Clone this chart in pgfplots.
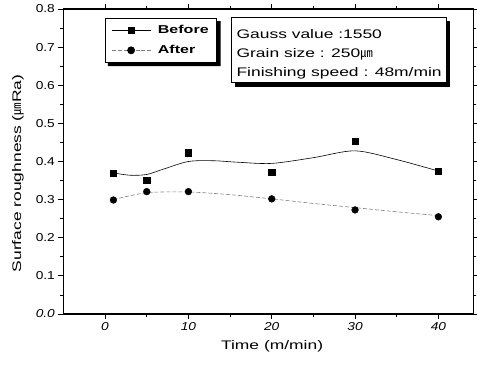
\documentclass[border=0pt]{standalone}
\usepackage{fontspec}
\setmainfont[FakeStretch=1.4]{Liberation Sans}
\newfontfamily\tickfont[FakeStretch=1.2]{Liberation Sans}
\newfontfamily\cjk{Noto Sans CJK SC}
\usepackage{pgfplots}
\usepackage{pgfplotstable}
\pgfplotsset{compat=1.18}
\usetikzlibrary{shadows}

\pgfplotstableread{
x y
1 0.370
5 0.351
10 0.423
20 0.372
30 0.454
40 0.375
}\beforepts
\pgfplotstableread{
x y
1 0.299
5 0.321
10 0.321
20 0.302
30 0.273
40 0.255
}\afterpts
\pgfplotstableread{
x y
1 0.370
3 0.364
5 0.366
7 0.380
10 0.400
13 0.402
16 0.398
20 0.395
25 0.410
30 0.428
35 0.405
40 0.375
}\beforefit
\pgfplotstableread{
x y
1 0.300
5 0.318
10 0.320
15 0.313
20 0.302
25 0.290
30 0.279
35 0.268
40 0.258
}\afterfit

\begin{document}
\begin{tikzpicture}
\useasboundingbox (0,0) rectangle (477bp,367bp);
\begin{axis}[
  at={(63.4bp,53bp)}, anchor=south west, scale only axis,
  width=410bp, height=305bp,
  xmin=-5, xmax=44.2, ymin=0, ymax=0.8,
  xtick={0,10,20,30,40},
  xticklabels={\textit{0},\textit{10},\textit{20},\textit{30},\textit{40}},
  minor x tick num=1,
  ytick={0,0.1,0.2,0.3,0.4,0.5,0.6,0.7,0.8},
  yticklabels={\textit{0.0},0.1,0.2,0.3,0.4,0.5,0.6,0.7,0.8},
  minor y tick num=1,
  tick align=outside,
  major tick length=5bp, minor tick length=3bp,
  axis line style={line width=1.1pt},
  every tick/.style={black, line width=0.8pt},
  /pgf/number format/assume math mode=true,
  tick label style={font=\tickfont\fontsize{11.5}{13}\selectfont},
  xlabel={Time (m/min)},
  ylabel={Surface roughness ({\cjk ㎛}Ra)},
  label style={font=\fontsize{12.5}{15}\selectfont},
  xlabel style={at={(axis description cs:0.509,-0.105)}, anchor=center},
  ylabel style={at={(axis description cs:-0.111,0.461)}, anchor=center},
  legend cell align=left,
  legend style={name=legbox, at={(0.101,0.970)}, anchor=north west, draw=black,
    line width=1pt, fill=white,
    font=\bfseries\fontsize{11.5}{14}\selectfont, row sep=6bp, column sep=5bp,
    inner xsep=6bp, inner ysep=5bp},
]
\addplot[black, line width=0.6pt, smooth, forget plot] table[x=x,y=y] {\beforefit};
\addplot[black, only marks, mark=square*, mark size=3.2bp,
  legend image code/.code={
    \draw[black, line width=0.6pt] (0bp,0bp) -- (39bp,0bp);
    \fill[black] (16.5bp,-3.2bp) rectangle (22.9bp,3.2bp);}]
  table[x=x,y=y] {\beforepts};
\addlegendentry{Before}
\addplot[gray, line width=0.6pt, smooth, dash pattern=on 4pt off 2pt, forget plot] table[x=x,y=y] {\afterfit};
\addplot[black, only marks, mark=*, mark size=3.4bp,
  legend image code/.code={
    \draw[gray, line width=0.6pt, dash pattern=on 4pt off 2pt] (0bp,0bp) -- (39bp,0bp);
    \fill[black] (19.5bp,0bp) circle (3.4bp);}]
  table[x=x,y=y] {\afterpts};
\addlegendentry{After}
\node[draw=black, line width=1pt, fill=white, anchor=north west, align=left,
  drop shadow={shadow xshift=3bp, shadow yshift=-4bp, fill=black, opacity=1},
  inner xsep=5bp, inner ysep=4bp, font=\fontsize{12.5}{19}\selectfont]
  at (rel axis cs:0.409,0.974)
  {\rule{0pt}{17bp}Gauss value :1550\\Grain size : 250{\cjk ㎛}\\Finishing speed : 48m/min};
\end{axis}
\fill[black] ([yshift=-3bp]legbox.north east) -- ++(3.5bp,0)
  |- ([xshift=3bp,yshift=-3.5bp]legbox.south west)
  -- ([xshift=3bp]legbox.south west) -| cycle;
\end{tikzpicture}
\end{document}
